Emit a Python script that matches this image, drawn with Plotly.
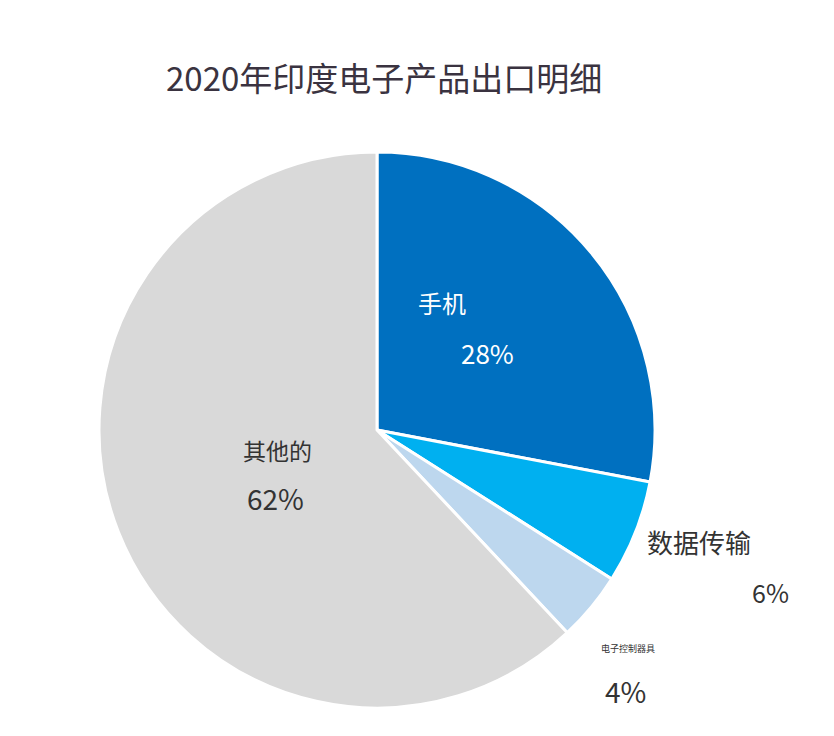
import plotly.graph_objects as go

title = "2020年印度电子产品出口明细"
labels = ["手机", "数据传输", "电子控制器具", "其他的"]
values = [28, 6, 4, 62]
colors = ["#0070C0", "#00B0F0", "#BDD7EE", "#D9D9D9"]

# the page body adds an 8px margin, so the figure is drawn 8px in from the corner
OFF = 8
W, H = 834 - OFF, 736 - OFF
font = "Noto Sans CJK SC, Noto Sans, sans-serif"


def px(x):
    return (x - OFF) / W


def py(y):
    return 1 - (y - OFF) / H


fig = go.Figure(go.Pie(
    labels=labels, values=values, sort=False, direction="clockwise",
    rotation=0, textinfo="none", hoverinfo="label+percent",
    marker=dict(colors=colors, line=dict(color="white", width=3)),
    domain=dict(x=[px(99), px(655)], y=[py(708), py(152)]),
    showlegend=False,
))

# label / percent centres in pixels (x, y) for each slice
label_pos = [(442, 302), (699, 541), (628, 648), (277, 450)]
pct_pos = [(488, 352), (770, 592), (625, 691), (275, 498)]
label_size = [24, 26, 9, 23]
pct_size = [26, 25, 28, 28]
text_col = ["white", "#333333", "#333333", "#333333"]

ann = []
for i, lab in enumerate(labels):
    lx, ly = label_pos[i]
    qx, qy = pct_pos[i]
    ann.append(dict(x=px(lx), y=py(ly), xref="paper", yref="paper", text=lab,
                    xanchor="center", yanchor="middle", showarrow=False,
                    font=dict(size=label_size[i], color=text_col[i], family=font)))
    ann.append(dict(x=px(qx), y=py(qy), xref="paper", yref="paper",
                    text=f"{values[i]}%", xanchor="center", yanchor="middle",
                    showarrow=False,
                    font=dict(size=pct_size[i], color=text_col[i], family=font)))

ann.append(dict(x=px(384), y=py(77), xref="paper", yref="paper", text=title,
                xanchor="center", yanchor="middle", showarrow=False,
                font=dict(size=33, color="#3a3340", family=font)))

fig.update_layout(
    width=W, height=H, margin=dict(l=0, r=0, t=0, b=0),
    paper_bgcolor="white", plot_bgcolor="white", annotations=ann,
)

fig.write_html("out.html")
